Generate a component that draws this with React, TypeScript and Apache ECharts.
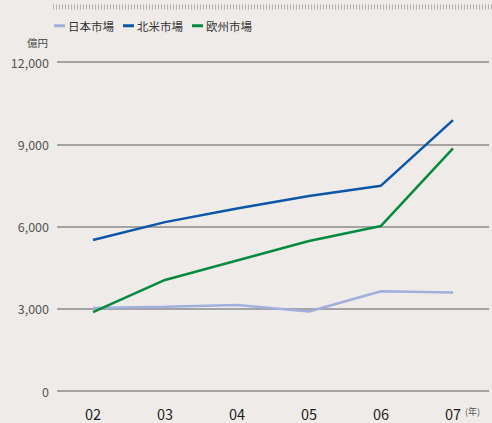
import React, { useEffect, useRef } from "react";
import * as echarts from "echarts";

const years = ["02", "03", "04", "05", "06", "07"];
const japan = [3030, 3070, 3140, 2900, 3640, 3590];
const northAmerica = [5510, 6160, 6660, 7110, 7490, 9880];
const europe = [2880, 4050, 4760, 5470, 6020, 8850];
const seriesNames = ["日本市場", "北米市場", "欧州市場"];
const seriesColors = ["#9fb0dd", "#0a56a8", "#058a3e"];

const FONT = "'Noto Sans CJK JP', 'Noto Sans', sans-serif";

export default function App() {
  const ref = useRef<HTMLDivElement>(null);
  useEffect(() => {
    document.body.style.margin = "0";
    const chart = echarts.init(ref.current!, null, { renderer: "svg" });
    const values = [japan, northAmerica, europe];
    chart.setOption({
      animation: false,
      backgroundColor: "#efebe8",
      textStyle: { fontFamily: FONT },
      grid: { left: 57, right: 3, top: 62, bottom: 32 },
      legend: {
        left: 49,
        top: 15,
        icon: "rect",
        itemWidth: 11,
        itemHeight: 3,
        itemGap: 9,
        textStyle: { fontSize: 11.5, color: "#333", fontFamily: FONT, padding: [0, 0, 0, -2] },
        data: seriesNames,
      },
      xAxis: {
        type: "category",
        data: years,
        boundaryGap: true,
        axisLine: { show: false },
        axisTick: { show: false },
        axisLabel: { color: "#1e1e1e", fontSize: 14.5, margin: 15, fontFamily: FONT },
      },
      yAxis: {
        type: "value",
        min: 0,
        max: 12000,
        interval: 3000,
        axisLine: { show: false },
        axisTick: { show: false },
        axisLabel: {
          color: "#555",
          fontSize: 12.5,
          margin: 8,
          fontFamily: FONT,
          formatter: (v: number) => v.toLocaleString("en-US"),
        },
        splitLine: { lineStyle: { color: "#a3a3a3", width: 2 } },
      },
      graphic: [
        {
          type: "line",
          shape: { x1: 53, y1: 7, x2: 492, y2: 7 },
          style: { stroke: "#b0b0b0", lineWidth: 5, lineDash: [1, 2] },
        },
        {
          type: "text",
          left: 27,
          top: 37,
          style: { text: "億円", fontSize: 10.5, fill: "#444", fontFamily: FONT },
        },
        {
          type: "text",
          left: 465,
          top: 407,
          style: { text: "(年)", fontSize: 9, fill: "#555", fontFamily: FONT },
        },
      ],
      series: seriesNames.map((name, i) => ({
        name,
        type: "line",
        data: values[i],
        symbol: "none",
        color: seriesColors[i],
        lineStyle: { width: 2.5, color: seriesColors[i] },
        z: i === 0 ? 2 : 3,
      })),
    });
    return () => chart.dispose();
  }, []);
  return <div ref={ref} style={{ width: 492, height: 423 }} />;
}
